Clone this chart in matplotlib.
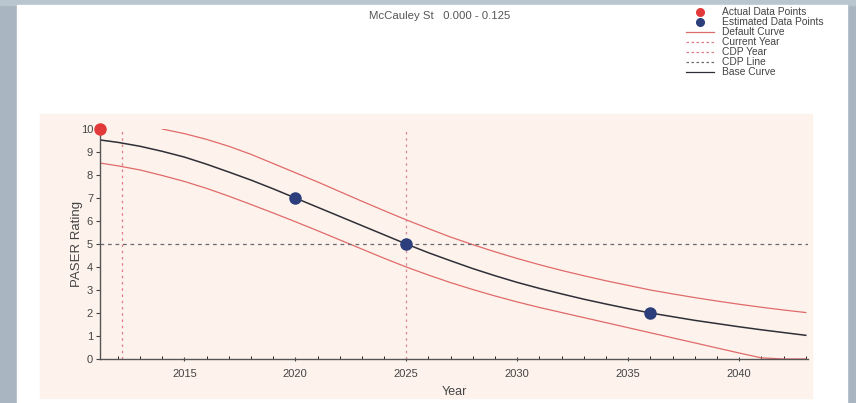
import matplotlib
matplotlib.use("Agg")
import matplotlib.pyplot as plt
from matplotlib.patches import Rectangle
from matplotlib.lines import Line2D

plt.rcParams['font.family'] = ['Liberation Sans', 'DejaVu Sans']

# %% data
base_years = list(range(2011, 2044))
base_vals = [9.55, 9.42, 9.25, 9.03, 8.78, 8.47, 8.13, 7.78, 7.4, 7.0, 6.6,
             6.2, 5.8, 5.4, 5.0, 4.62, 4.27, 3.93, 3.62, 3.33, 3.07, 2.83,
             2.6, 2.39, 2.19, 2.0, 1.84, 1.68, 1.54, 1.4, 1.27, 1.15, 1.03]

upper_years = [2014.0] + list(range(2015, 2044))
upper_vals = [10.0, 9.8, 9.55, 9.25, 8.9, 8.5, 8.1, 7.7, 7.28, 6.86, 6.45,
              6.05, 5.67, 5.3, 4.97, 4.66, 4.37, 4.1, 3.85, 3.62, 3.4, 3.2,
              3.0, 2.83, 2.67, 2.52, 2.38, 2.25, 2.13, 2.02]

lower_years = list(range(2011, 2044))
lower_vals = [8.55, 8.4, 8.22, 7.98, 7.72, 7.42, 7.08, 6.72, 6.35, 5.97, 5.58,
              5.18, 4.78, 4.38, 4.0, 3.65, 3.32, 3.02, 2.74, 2.48, 2.24, 2.02,
              1.8, 1.58, 1.36, 1.14, 0.92, 0.7, 0.48, 0.26, 0.05, 0.0, 0.0]

actual_years = [2011.2]
actual_vals = [10]
est_years = [2020, 2025, 2036]
est_vals = [7, 5, 2]

current_year = 2012.2
cdp_year = 2025
cdp_line = 5

title = "McCauley St   0.000 - 0.125"

# %% figure
W, H = 856, 403
fig = plt.figure(figsize=(W / 100, H / 100), dpi=100, facecolor='#a9b5c0')


def fbox(x0, y0, x1, y1, color, z):
    # rectangle given in pixel coords (top-left origin)
    fig.patches.append(Rectangle((x0 / W, 1 - y1 / H), (x1 - x0) / W, (y1 - y0) / H,
                                 transform=fig.transFigure, color=color, zorder=z))


fbox(0, 0, W, 5, '#b9c5cf', -3)
fbox(17, 5, 847, H, '#ffffff', -2)
fbox(40, 114, 812, 398, '#fdf3ec', -1)

ax = fig.add_axes([100 / W, 1 - 359 / H, 708 / W, (359 - 129) / H])
ax.set_facecolor('none')

red = '#e06a6a'
ax.plot(upper_years, upper_vals, color=red, lw=0.9)
ax.plot(lower_years, lower_vals, color=red, lw=0.9)
ax.plot(base_years, base_vals, color='#2f2f38', lw=1.1)
ax.axvline(current_year, color='#e07a86', ls=(0, (2, 3)), lw=0.9)
ax.axvline(cdp_year, color='#d88a9a', ls=(0, (2, 3)), lw=0.9)
ax.axhline(cdp_line, color='#6a6a70', ls=(0, (3, 3)), lw=0.9)
ax.scatter(est_years, est_vals, s=64, color='#2c3f7c', zorder=5, clip_on=False)
ax.scatter(actual_years, actual_vals, s=64, color='#e23a3a', zorder=5, clip_on=False)

ax.set_xlim(2011.2, 2043.1)
ax.set_ylim(0, 10)
ax.set_xticks(range(2015, 2041, 5))
ax.set_xticks(range(2012, 2044), minor=True)
ax.set_yticks(range(0, 11))
for s in ['top', 'right']:
    ax.spines[s].set_visible(False)
for s in ['left', 'bottom']:
    ax.spines[s].set_color('#555555')
    ax.spines[s].set_linewidth(1.0)
ax.tick_params(axis='both', labelsize=8, colors='#444444', length=3, width=0.8)
ax.tick_params(axis='y', pad=2)
ax.tick_params(axis='x', which='minor', length=2, direction='in', width=0.6)
ax.tick_params(axis='x', which='major', direction='inout', pad=6)
ax.set_xlabel('Year', fontsize=9, color='#444444', labelpad=5)
ax.set_ylabel('PASER Rating', fontsize=9.5, color='#444444', labelpad=-2)

fig.text(440 / W, 1 - 16 / H, title, ha='center', va='center', fontsize=8.2, color='#555555')

handles = [
    Line2D([], [], ls='none', marker='o', ms=5.5, color='#e23a3a'),
    Line2D([], [], ls='none', marker='o', ms=5.5, color='#2c3f7c'),
    Line2D([], [], color=red, lw=0.9),
    Line2D([], [], color='#e07a86', ls=(0, (2, 2)), lw=0.9),
    Line2D([], [], color='#e07a86', ls=(0, (2, 2)), lw=0.9),
    Line2D([], [], color='#6a6a70', ls=(0, (2, 2)), lw=0.9),
    Line2D([], [], color='#2f2f38', lw=0.9),
]
labels = ['Actual Data Points', 'Estimated Data Points', 'Default Curve',
          'Current Year', 'CDP Year', 'CDP Line', 'Base Curve']
leg = fig.legend(handles, labels, loc='upper left', bbox_to_anchor=(681 / W, 1 - 2 / H),
                 frameon=False, fontsize=7.4, handlelength=2.7, handletextpad=0.8,
                 labelspacing=0.0, borderpad=0)
for t in leg.get_texts():
    t.set_color('#444444')

fig.savefig('out.png', dpi=100, facecolor=fig.get_facecolor())
